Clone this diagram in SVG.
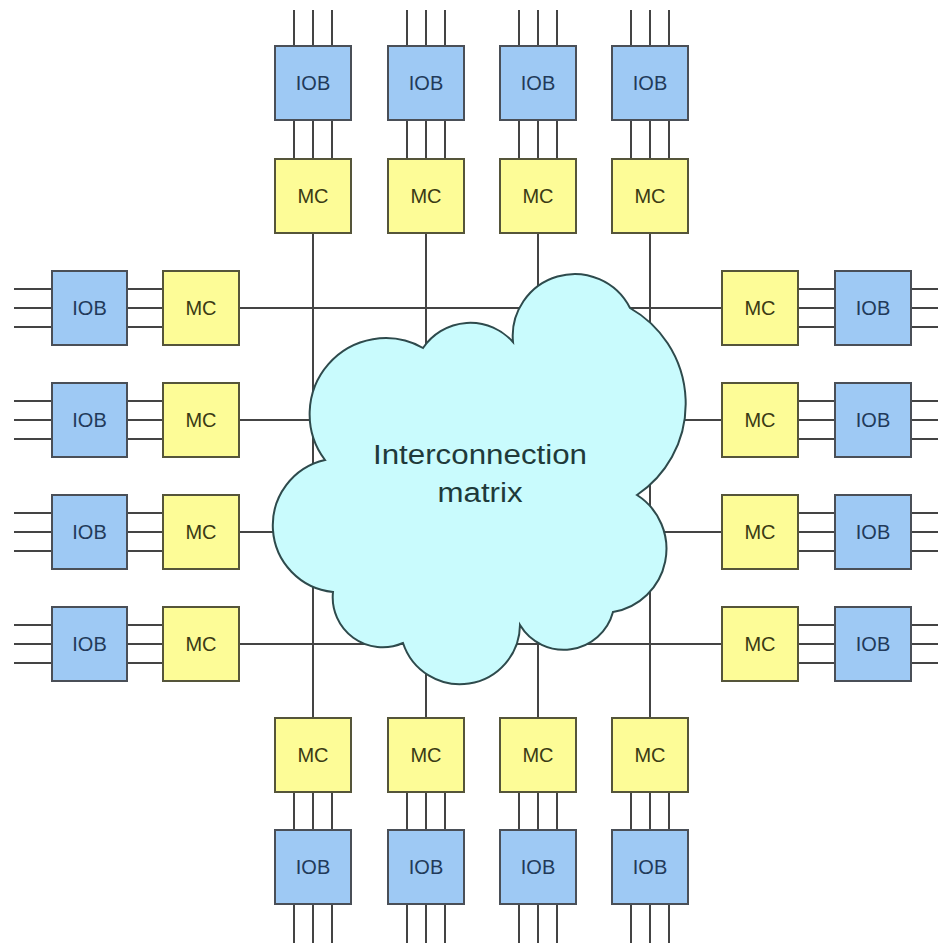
<svg xmlns="http://www.w3.org/2000/svg" width="938" height="943" viewBox="0 0 938 943">
<style>
.bg{fill:#ffffff}
.wire{fill:none;stroke:#444444;stroke-width:2}
.iob{fill:#9ec9f4;stroke:#4a4f57;stroke-width:2}
.mc{fill:#fdfc97;stroke:#55553a;stroke-width:2}
.cloud{fill:#c9fbfd;stroke:#2e4a4c;stroke-width:2}
.t{font-family:"Liberation Sans",Arial,sans-serif;font-size:20px;text-anchor:middle}
.ti{fill:#223a5a}
.tm{fill:#3a3a14}
.tc{font-family:"Liberation Sans",Arial,sans-serif;font-size:27px;text-anchor:middle;fill:#1f3a3a}
</style>
<rect class="bg" x="0" y="0" width="938" height="943"/>
<g id="connectors">
<path class="wire" d="
M294 10V46 M313 10V46 M332 10V46 M294 120V159 M313 120V159 M332 120V159 M313 233V718 M294 792V830 M313 792V830 M332 792V830 M294 904V943 M313 904V943 M332 904V943
M407 10V46 M426 10V46 M445 10V46 M407 120V159 M426 120V159 M445 120V159 M426 233V718 M407 792V830 M426 792V830 M445 792V830 M407 904V943 M426 904V943 M445 904V943
M519 10V46 M538 10V46 M557 10V46 M519 120V159 M538 120V159 M557 120V159 M538 233V718 M519 792V830 M538 792V830 M557 792V830 M519 904V943 M538 904V943 M557 904V943
M631 10V46 M650 10V46 M669 10V46 M631 120V159 M650 120V159 M669 120V159 M650 233V718 M631 792V830 M650 792V830 M669 792V830 M631 904V943 M650 904V943 M669 904V943
M14 289H52 M14 308H52 M14 327H52 M127 289H163 M127 308H163 M127 327H163 M239 308H722 M798 289H835 M798 308H835 M798 327H835 M911 289H938 M911 308H938 M911 327H938
M14 401H52 M14 420H52 M14 439H52 M127 401H163 M127 420H163 M127 439H163 M239 420H722 M798 401H835 M798 420H835 M798 439H835 M911 401H938 M911 420H938 M911 439H938
M14 513H52 M14 532H52 M14 551H52 M127 513H163 M127 532H163 M127 551H163 M239 532H722 M798 513H835 M798 532H835 M798 551H835 M911 513H938 M911 532H938 M911 551H938
M14 625H52 M14 644H52 M14 663H52 M127 625H163 M127 644H163 M127 663H163 M239 644H722 M798 625H835 M798 644H835 M798 663H835 M911 625H938 M911 644H938 M911 663H938"/>
</g>
<g id="cloud">
<path class="cloud" d="M325 460 A76 76 0 0 1 423 348 A57 57 0 0 1 513 342 A62 62 0 0 1 630 308 A110 110 0 0 1 637 495 A64 64 0 0 1 613 612 A51 51 0 0 1 520 625 A60 60 0 0 1 403 643 A50 50 0 0 1 333 592 A67 67 0 0 1 325 460 Z"/>
<text class="tc" x="480" y="464" textLength="214" lengthAdjust="spacingAndGlyphs">Interconnection</text>
<text class="tc" x="480" y="502" textLength="85" lengthAdjust="spacingAndGlyphs">matrix</text>
</g>
<g id="iob-top-1"><rect class="iob" x="275" y="46" width="76" height="74"/><text class="t ti" x="313" y="90">IOB</text></g>
<g id="iob-top-2"><rect class="iob" x="388" y="46" width="76" height="74"/><text class="t ti" x="426" y="90">IOB</text></g>
<g id="iob-top-3"><rect class="iob" x="500" y="46" width="76" height="74"/><text class="t ti" x="538" y="90">IOB</text></g>
<g id="iob-top-4"><rect class="iob" x="612" y="46" width="76" height="74"/><text class="t ti" x="650" y="90">IOB</text></g>
<g id="mc-top-1"><rect class="mc" x="275" y="159" width="76" height="74"/><text class="t tm" x="313" y="203">MC</text></g>
<g id="mc-top-2"><rect class="mc" x="388" y="159" width="76" height="74"/><text class="t tm" x="426" y="203">MC</text></g>
<g id="mc-top-3"><rect class="mc" x="500" y="159" width="76" height="74"/><text class="t tm" x="538" y="203">MC</text></g>
<g id="mc-top-4"><rect class="mc" x="612" y="159" width="76" height="74"/><text class="t tm" x="650" y="203">MC</text></g>
<g id="mc-bot-1"><rect class="mc" x="275" y="718" width="76" height="74"/><text class="t tm" x="313" y="762">MC</text></g>
<g id="mc-bot-2"><rect class="mc" x="388" y="718" width="76" height="74"/><text class="t tm" x="426" y="762">MC</text></g>
<g id="mc-bot-3"><rect class="mc" x="500" y="718" width="76" height="74"/><text class="t tm" x="538" y="762">MC</text></g>
<g id="mc-bot-4"><rect class="mc" x="612" y="718" width="76" height="74"/><text class="t tm" x="650" y="762">MC</text></g>
<g id="iob-bot-1"><rect class="iob" x="275" y="830" width="76" height="74"/><text class="t ti" x="313" y="874">IOB</text></g>
<g id="iob-bot-2"><rect class="iob" x="388" y="830" width="76" height="74"/><text class="t ti" x="426" y="874">IOB</text></g>
<g id="iob-bot-3"><rect class="iob" x="500" y="830" width="76" height="74"/><text class="t ti" x="538" y="874">IOB</text></g>
<g id="iob-bot-4"><rect class="iob" x="612" y="830" width="76" height="74"/><text class="t ti" x="650" y="874">IOB</text></g>
<g id="iob-left-1"><rect class="iob" x="52" y="271" width="75" height="74"/><text class="t ti" x="89.5" y="315">IOB</text></g>
<g id="iob-left-2"><rect class="iob" x="52" y="383" width="75" height="74"/><text class="t ti" x="89.5" y="427">IOB</text></g>
<g id="iob-left-3"><rect class="iob" x="52" y="495" width="75" height="74"/><text class="t ti" x="89.5" y="539">IOB</text></g>
<g id="iob-left-4"><rect class="iob" x="52" y="607" width="75" height="74"/><text class="t ti" x="89.5" y="651">IOB</text></g>
<g id="mc-left-1"><rect class="mc" x="163" y="271" width="76" height="74"/><text class="t tm" x="201" y="315">MC</text></g>
<g id="mc-left-2"><rect class="mc" x="163" y="383" width="76" height="74"/><text class="t tm" x="201" y="427">MC</text></g>
<g id="mc-left-3"><rect class="mc" x="163" y="495" width="76" height="74"/><text class="t tm" x="201" y="539">MC</text></g>
<g id="mc-left-4"><rect class="mc" x="163" y="607" width="76" height="74"/><text class="t tm" x="201" y="651">MC</text></g>
<g id="mc-right-1"><rect class="mc" x="722" y="271" width="76" height="74"/><text class="t tm" x="760" y="315">MC</text></g>
<g id="mc-right-2"><rect class="mc" x="722" y="383" width="76" height="74"/><text class="t tm" x="760" y="427">MC</text></g>
<g id="mc-right-3"><rect class="mc" x="722" y="495" width="76" height="74"/><text class="t tm" x="760" y="539">MC</text></g>
<g id="mc-right-4"><rect class="mc" x="722" y="607" width="76" height="74"/><text class="t tm" x="760" y="651">MC</text></g>
<g id="iob-right-1"><rect class="iob" x="835" y="271" width="76" height="74"/><text class="t ti" x="873" y="315">IOB</text></g>
<g id="iob-right-2"><rect class="iob" x="835" y="383" width="76" height="74"/><text class="t ti" x="873" y="427">IOB</text></g>
<g id="iob-right-3"><rect class="iob" x="835" y="495" width="76" height="74"/><text class="t ti" x="873" y="539">IOB</text></g>
<g id="iob-right-4"><rect class="iob" x="835" y="607" width="76" height="74"/><text class="t ti" x="873" y="651">IOB</text></g>
</svg>
